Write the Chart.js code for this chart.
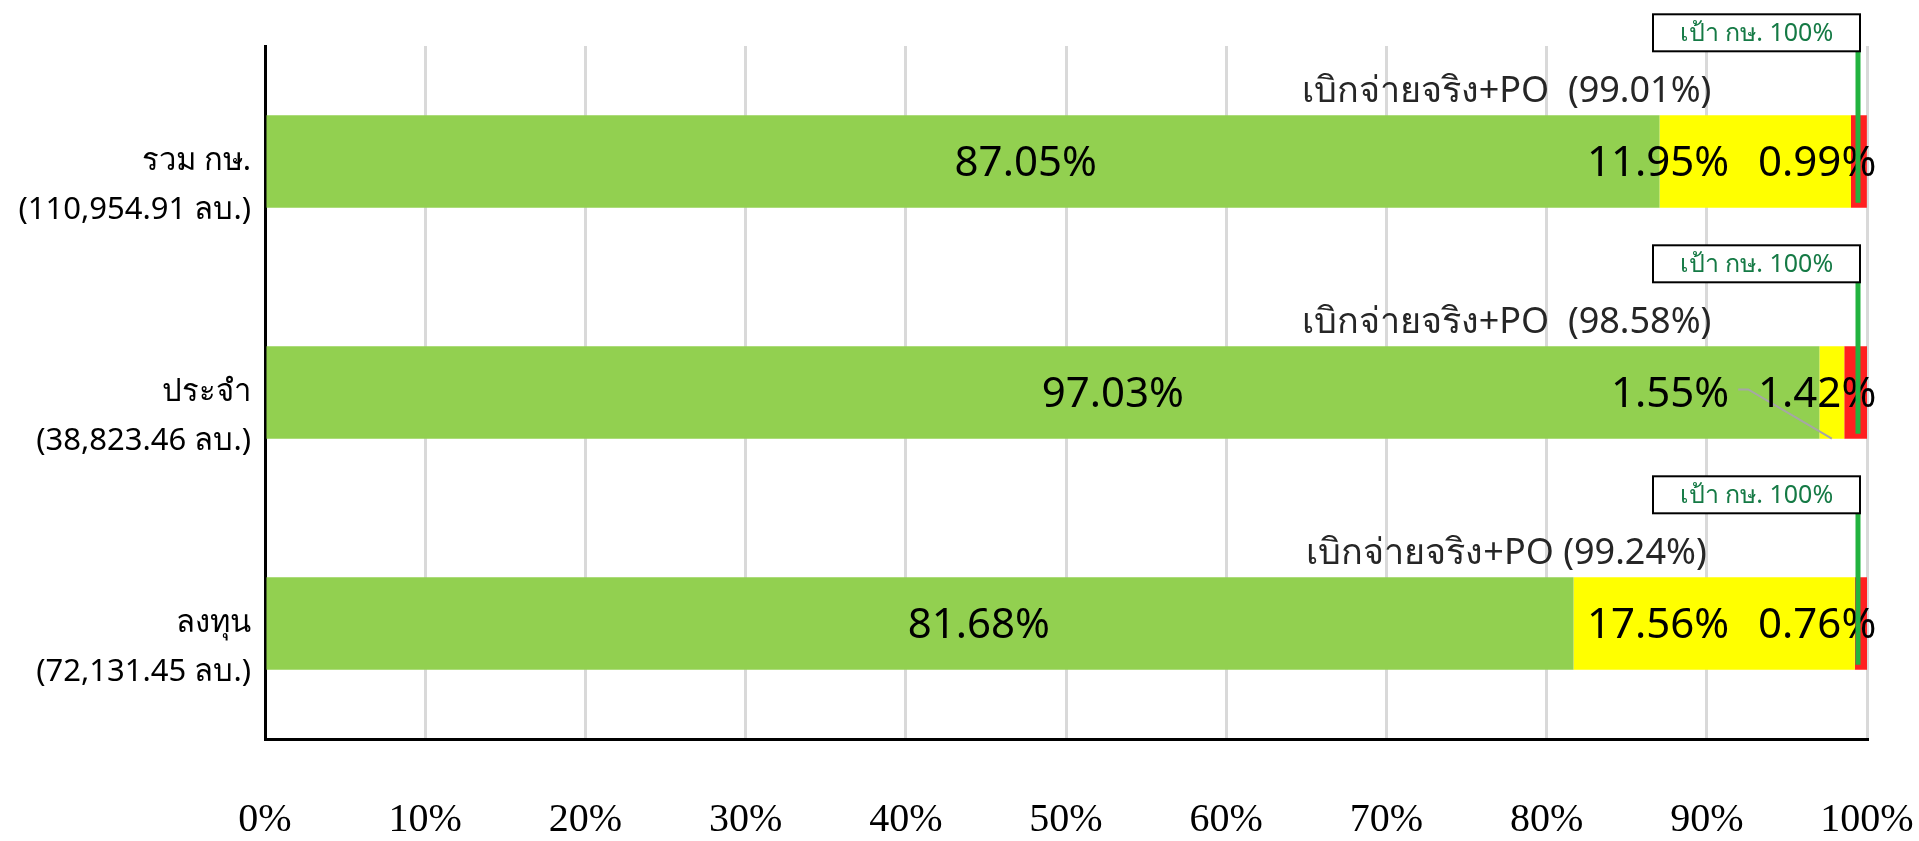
<!DOCTYPE html>
<html>
<head>
<meta charset="utf-8">
<script src="https://cdn.jsdelivr.net/npm/chart.js@4.4.1/dist/chart.umd.min.js"></script>
<style>
  html, body { margin: 0; padding: 0; background: #fff; overflow: hidden; }
</style>
</head>
<body>
<canvas id="chart" width="1919" height="841"></canvas>
<script>
// ข้อมูลผลการเบิกจ่าย (ร้อยละ)
const categories = [
    ['', 'รวม กษ.', '(110,954.91 ลบ.)'],
    ['', 'ประจำ', '(38,823.46 ลบ.)'],
    ['', 'ลงทุน', '(72,131.45 ลบ.)']
];
const paid = [87.05, 97.03, 81.68];       // เบิกจ่ายจริง
const po = [11.95, 1.55, 17.56];          // PO
const remain = [0.99, 1.42, 0.76];        // คงเหลือ
const paidPoText = ['เบิกจ่ายจริง+PO  (99.01%)', 'เบิกจ่ายจริง+PO  (98.58%)', 'เบิกจ่ายจริง+PO (99.24%)'];
const targets = [100, 100, 100];
const targetText = 'เป้า กษ. 100%';
const xTicks = [0, 10, 20, 30, 40, 50, 60, 70, 80, 90, 100];

const SANS = "'Noto Sans', Tahoma, sans-serif";
const SERIF = "'Liberation Serif', 'Times New Roman', serif";
const fmt = v => v.toFixed(2) + '%';

// วาดป้ายตัวเลข, ข้อความสรุป และเส้นเป้าหมาย
const annotate = {
    id: 'annotate',
    afterDatasetsDraw(chart) {
        const { ctx, scales: { x } } = chart;
        const meta = i => chart.getDatasetMeta(i).data;
        ctx.save();
        categories.forEach((_, i) => {
            const g = meta(0)[i], yl = meta(1)[i];
            const top = g.y - g.height / 2, bottom = g.y + g.height / 2;
            const cy = g.y + 3;

            ctx.font = `42px ${SANS}`;
            ctx.fillStyle = '#000';
            ctx.textBaseline = 'middle';

            // green
            ctx.textAlign = 'center';
            ctx.fillText(fmt(paid[i]), g.base + (g.x - g.base) * 0.545, cy);

            // yellow, right aligned near 91.5%
            const yText = fmt(po[i]);
            const yRight = x.getPixelForValue(91.4);
            ctx.textAlign = 'right';
            ctx.fillText(yText, yRight, cy);
            const tw = ctx.measureText(yText).width;
            if (Math.abs(yl.x - yl.base) < tw) {
                ctx.strokeStyle = '#a6a6a6';
                ctx.lineWidth = 2;
                ctx.beginPath();
                ctx.moveTo(yRight + 9, cy - 6);
                ctx.lineTo(yRight + 19, cy - 6);
                ctx.lineTo((yl.x + yl.base) / 2, bottom);
                ctx.stroke();
            }

            // red
            ctx.textAlign = 'left';
            ctx.fillText(fmt(remain[i]), x.getPixelForValue(93.2), cy);

            // paid + PO
            ctx.font = `36px ${SANS}`;
            ctx.fillStyle = '#262626';
            ctx.textAlign = 'center';
            ctx.fillText(paidPoText[i], x.getPixelForValue(77.5), top - 24);

            // target line + box (sits a little left of the 100% grid in the original)
            const lx = x.getPixelForValue(targets[i]) - 9;
            const boxBottom = top - 64;
            ctx.strokeStyle = '#22b33f';
            ctx.lineWidth = 5;
            ctx.beginPath();
            ctx.moveTo(lx, boxBottom);
            ctx.lineTo(lx, bottom - 5);
            ctx.stroke();

            const bw = 207, bh = 37;
            ctx.fillStyle = '#fff';
            ctx.fillRect(lx + 2 - bw, boxBottom - bh, bw, bh);
            ctx.strokeStyle = '#000';
            ctx.lineWidth = 2;
            ctx.strokeRect(lx + 2 - bw, boxBottom - bh, bw, bh);
            ctx.font = `25px ${SANS}`;
            ctx.fillStyle = '#157a45';
            ctx.fillText(targetText, lx + 2 - bw / 2, boxBottom - bh / 2 + 1);
        });
        ctx.restore();
    }
};

const bar = (label, data, color) => ({
    label, data, backgroundColor: color, borderWidth: 0,
    categoryPercentage: 1, barPercentage: 0.4
});

const noPad = s => { s.paddingTop = 0; s.paddingBottom = 0; s.paddingLeft = 0; s.paddingRight = 0; };

new Chart(document.getElementById('chart'), {
    type: 'bar',
    data: {
        labels: categories,
        datasets: [
            bar('เบิกจ่ายจริง', paid, '#92d050'),
            bar('PO', po, '#ffff00'),
            bar('คงเหลือ', remain, '#ff2020')
        ]
    },
    options: {
        indexAxis: 'y',
        responsive: false,
        animation: false,
        layout: { padding: { top: 46, right: 52, left: 0, bottom: 0 } },
        plugins: { legend: { display: false }, tooltip: { enabled: false } },
        scales: {
            x: {
                stacked: true,
                min: 0,
                max: 100,
                afterFit: s => { s.height = 102; noPad(s); },
                afterBuildTicks: s => { s.ticks = xTicks.map(v => ({ value: v })); },
                grid: { color: '#d9d9d9', lineWidth: 3, drawTicks: false },
                border: { color: '#000', width: 3 },
                ticks: {
                    padding: 57,
                    color: '#000',
                    maxRotation: 0,
                    font: { family: SERIF, size: 40 },
                    callback: v => v + '%'
                }
            },
            y: {
                stacked: true,
                afterFit: s => { s.width = 265; noPad(s); },
                grid: { display: false, drawTicks: false },
                border: { color: '#000', width: 3 },
                ticks: {
                    padding: 14,
                    color: '#000',
                    font: { family: SANS, size: 31, lineHeight: 1.56 }
                }
            }
        }
    },
    plugins: [annotate]
});
</script>
</body>
</html>
